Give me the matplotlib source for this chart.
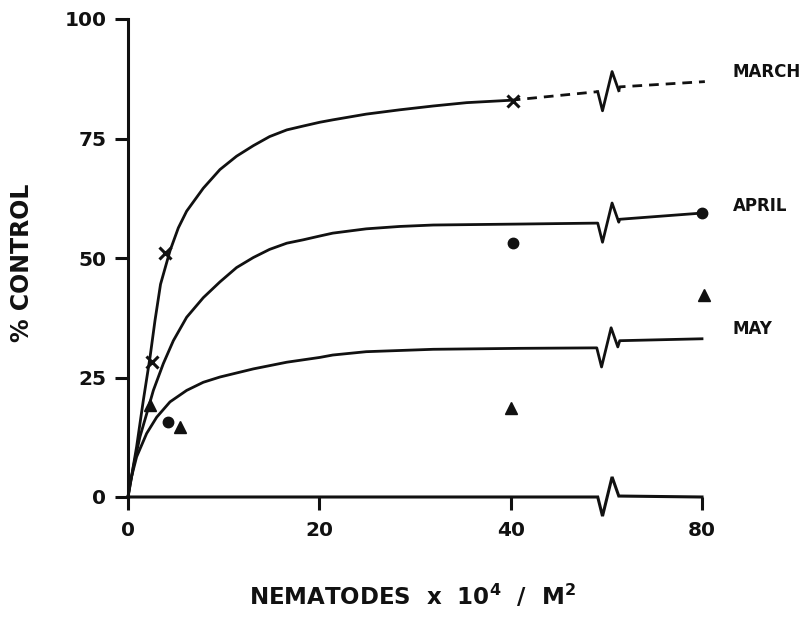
import matplotlib
matplotlib.use("Agg")
import matplotlib.pyplot as plt

# ---------------- data (x in display units: 0-40 linear, break at ~50, 80 drawn at 60) -------------
x_tick_pos = [0, 20, 40, 60]
x_tick_labels = ["0", "20", "40", "80"]
y_ticks = [0, 25, 50, 75, 100]
y_tick_labels = ["0", "25", "50", "75", "100"]

series_names = ["MARCH", "APRIL", "MAY"]

# observed points
march_pts_x = [2.54, 3.86, 40.2]
march_pts_y = [28.2, 51.1, 82.9]
april_pts_x = [4.2, 40.2, 60.0]
april_pts_y = [15.7, 53.2, 59.4]
may_pts_x = [2.3, 5.43, 40.0, 60.2]
may_pts_y = [19.2, 14.6, 18.6, 42.3]

# fitted curves, pre-break part
march_curve_x = [0, 0.9, 1.6, 2.3, 2.82, 3.4, 4.39, 5.26, 6.13, 7.87, 9.61, 11.35, 13.1, 14.8,
                 16.6, 18.3, 20.05, 21.4, 24.9, 28.4, 31.9, 35.4, 40]
march_curve_y = [0, 10.5, 20.2, 29.2, 36.9, 44.5, 51.5, 56.3, 59.8, 64.6, 68.5, 71.3, 73.5, 75.4,
                 76.8, 77.6, 78.4, 78.9, 80.1, 81.0, 81.8, 82.5, 83.0]
march_dash_x = [40, 49.1]
march_dash_y = [83, 84.8]
march_after_x = [51.4, 60.3]
march_after_y = [85.8, 86.9]

april_curve_x = [0, 0.56, 1.25, 1.95, 2.65, 3.69, 4.74, 6.13, 7.87, 9.61, 11.35, 13.1, 14.8, 16.6,
                 18.3, 20.05, 21.4, 24.9, 28.4, 31.9, 40.9, 49.1]
april_curve_y = [0, 6.3, 12.6, 17.4, 22.3, 27.9, 32.7, 37.6, 41.7, 45.0, 48.0, 50.1, 51.8, 53.1,
                 53.8, 54.6, 55.2, 56.1, 56.6, 56.9, 57.1, 57.3]
april_after_x = [51.4, 60.0]
april_after_y = [58.1, 59.4]

may_curve_x = [0, 0.2, 0.9, 1.95, 3.0, 4.39, 6.13, 7.87, 9.61, 13.1, 16.6, 20.05, 21.4, 24.9,
               31.9, 40.9, 49.0]
may_curve_y = [0, 2.9, 8.4, 13.3, 16.7, 19.9, 22.3, 24.0, 25.1, 26.8, 28.2, 29.2, 29.7, 30.4,
               30.9, 31.1, 31.2]
may_after_x = [51.4, 60.0]
may_after_y = [32.7, 33.1]

# ---------------- style ----------------
BLACK = "#111111"
LW = 2.0
BREAK_DX = [0.0, 0.5, 1.5, 2.2]      # zigzag x offsets (display units)
BREAK_DY = [0.0, -4.0, 4.2, 0.2]     # zigzag y offsets (data units)

plt.rcParams["font.family"] = ["DejaVu Sans"]
plt.rcParams["font.weight"] = "bold"
plt.rcParams["mathtext.fontset"] = "custom"
plt.rcParams["mathtext.bf"] = "DejaVu Sans:bold"
plt.rcParams["mathtext.rm"] = "DejaVu Sans:bold"
plt.rcParams["lines.scale_dashes"] = False

fig = plt.figure(figsize=(8.12, 6.17), dpi=100)
W, H = 812, 617
x0p, x1p, y0p, y1p = 128, 702, 497, 19
ax = fig.add_axes([x0p / W, (H - y0p) / H, (x1p - x0p) / W, (y0p - y1p) / H])
ax.set_xlim(0, 60)
ax.set_ylim(0, 100)


def zig(x, y):
    xs = [x + d for d in BREAK_DX]
    ys = [y + d for d in BREAK_DY]
    return xs, ys


# curves
ax.plot(march_curve_x, march_curve_y, color=BLACK, lw=LW, solid_capstyle="round",
        solid_joinstyle="round", clip_on=False)
ax.plot(march_dash_x, march_dash_y, color=BLACK, lw=LW, linestyle=(0, (7, 5)), clip_on=False)
zx, zy = zig(march_dash_x[-1], march_dash_y[-1])
ax.plot(zx, zy, color=BLACK, lw=LW, clip_on=False)
ax.plot([zx[-1]] + march_after_x, [zy[-1]] + march_after_y, color=BLACK, lw=LW,
        linestyle=(0, (7, 5)), clip_on=False)

for cx, cy, axx, ayy in [(april_curve_x, april_curve_y, april_after_x, april_after_y),
                         (may_curve_x, may_curve_y, may_after_x, may_after_y)]:
    zx, zy = zig(cx[-1], cy[-1])
    ax.plot(cx + zx[1:] + axx, cy + zy[1:] + ayy, color=BLACK, lw=LW,
            solid_joinstyle="round", clip_on=False)

# markers
ax.plot(march_pts_x, march_pts_y, linestyle="none", marker="x", ms=8, mew=2.2, color=BLACK, clip_on=False)
ax.plot(april_pts_x, april_pts_y, linestyle="none", marker="o", ms=7.5, color=BLACK, clip_on=False)
ax.plot(may_pts_x, may_pts_y, linestyle="none", marker="^", ms=8.5, color=BLACK, clip_on=False)

# series labels
label_y = [89, 60.8, 35.2]
for name, ly in zip(series_names, label_y):
    ax.text(63.2, ly, name, fontsize=12, fontweight="bold", va="center", ha="left",
            color=BLACK, clip_on=False)

# axes
for s in ["top", "right", "bottom"]:
    ax.spines[s].set_visible(False)
ax.spines["left"].set_linewidth(2.2)
ax.spines["left"].set_color(BLACK)
ax.spines["left"].set_bounds(0, 100)

# bottom axis with break
bx, by = zig(49.1, 0)
ax.plot([0] + bx + [60], [0] + by + [0], color=BLACK, lw=2.2, clip_on=False,
        solid_joinstyle="miter", zorder=5)

ax.set_xticks(x_tick_pos)
ax.set_xticklabels(x_tick_labels)
ax.set_yticks(y_ticks)
ax.set_yticklabels(y_tick_labels)
ax.tick_params(axis="both", direction="out", length=9.5, width=2.2, color=BLACK,
               labelsize=14.5, labelcolor=BLACK)
ax.tick_params(axis="x", pad=8)
ax.tick_params(axis="y", pad=6)

fig.text(22 / W, 1 - 263 / H, "% CONTROL", rotation=90, fontsize=17, fontweight="bold",
         ha="center", va="center", color=BLACK)
fig.text(412 / W, 1 - 596 / H, r"NEMATODES  x  10$^{\mathbf{4}}$  /  M$^{\mathbf{2}}$",
         fontsize=16.5, fontweight="bold", ha="center", va="center", color=BLACK)

fig.savefig("out.png", dpi=100, facecolor="white")
